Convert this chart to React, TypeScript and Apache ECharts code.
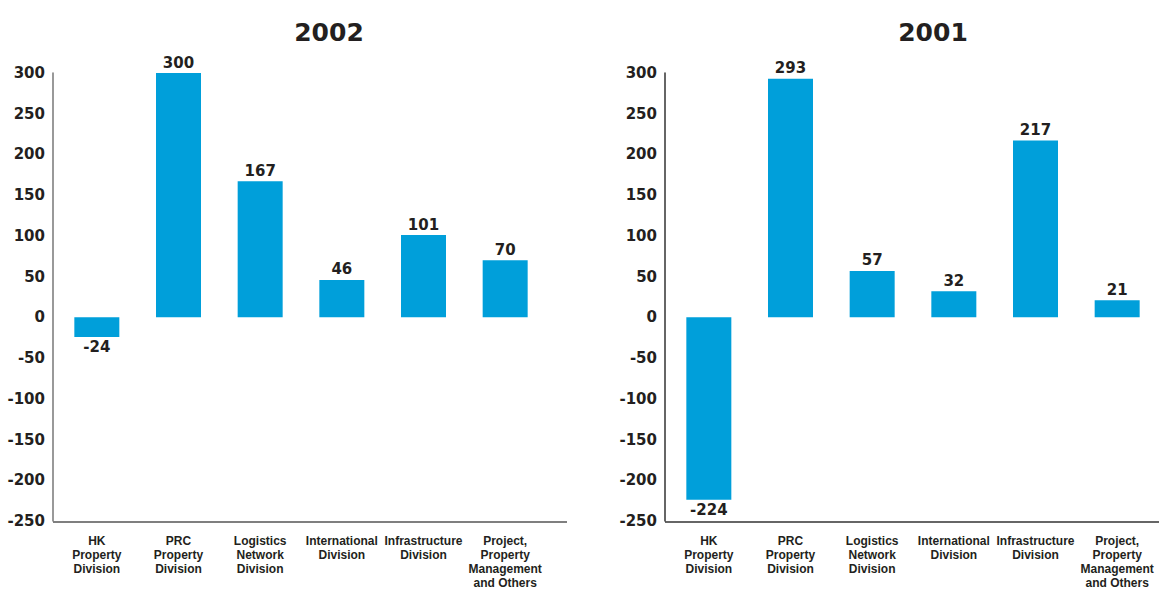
import React, { useEffect, useRef } from "react";
import * as echarts from "echarts";

const categories = [
  "HK\nProperty\nDivision",
  "PRC\nProperty\nDivision",
  "Logistics\nNetwork\nDivision",
  "International\nDivision",
  "Infrastructure\nDivision",
  "Project,\nProperty\nManagement\nand Others",
];
const values2002 = [-24, 300, 167, 46, 101, 70];
const values2001 = [-224, 293, 57, 32, 217, 21];
const titles = ["2002", "2001"];
const yMin = -250;
const yMax = 300;
const yStep = 50;

const BAR = "#009fda";
const TEXT = "#231f20";
const NUM_FONT = "'DejaVu Sans', sans-serif";
const CAT_FONT = "'Liberation Sans Narrow', 'Liberation Sans', sans-serif";

export default function App() {
  const ref = useRef<HTMLDivElement>(null);
  useEffect(() => {
    if (!ref.current) return;
    const chart = echarts.init(ref.current, null, { renderer: "svg" });
    const grids = [
      { left: 56, top: 73, width: 490, height: 449 },
      { left: 668, top: 73, width: 490, height: 449 },
    ];
    const axisColors = ["#777777", "#333333"];
    const mkData = (vals: number[]) =>
      vals.map((v) => ({
        value: v,
        label: { position: v < 0 ? "bottom" : "top" },
      }));
    chart.setOption({
      animation: false,
      title: [
        {
          text: titles[0],
          left: 324,
          top: 15,
          textAlign: "center",
          textStyle: { fontFamily: NUM_FONT, fontWeight: "bold", fontSize: 25, color: TEXT },
        },
        {
          text: titles[1],
          left: 928,
          top: 15,
          textAlign: "center",
          textStyle: { fontFamily: NUM_FONT, fontWeight: "bold", fontSize: 25, color: TEXT },
        },
      ],
      grid: grids,
      xAxis: [0, 1].map((i) => ({
        type: "category",
        gridIndex: i,
        data: categories,
        position: "bottom",
        axisLine: { show: false },
        axisTick: { show: false },
        axisLabel: {
          interval: 0,
          margin: 13,
          fontFamily: CAT_FONT,
          fontWeight: "bold",
          fontSize: 12,
          lineHeight: 14,
          color: TEXT,
        },
      })),
      yAxis: [0, 1].map((i) => ({
        type: "value",
        gridIndex: i,
        min: yMin,
        max: yMax,
        interval: yStep,
        offset: 3,
        axisLine: { show: true, lineStyle: { color: axisColors[i], width: 1.5 } },
        axisTick: { show: false },
        splitLine: { show: false },
        axisLabel: {
          margin: 8,
          padding: [3, 0, 0, 0],
          fontFamily: NUM_FONT,
          fontWeight: "bold",
          fontSize: 15,
          color: TEXT,
        },
      })),
      series: [values2002, values2001].map((vals, i) => ({
        type: "bar",
        xAxisIndex: i,
        yAxisIndex: i,
        data: mkData(vals),
        barWidth: 45,
        itemStyle: { color: BAR },
        label: {
          show: true,
          distance: 3,
          fontFamily: NUM_FONT,
          fontWeight: "bold",
          fontSize: 15,
          color: TEXT,
        },
      })),
      graphic: [
        {
          type: "line",
          shape: { x1: 53, y1: 522, x2: 567, y2: 522 },
          style: { stroke: "#555555", lineWidth: 1.5 },
        },
        {
          type: "line",
          shape: { x1: 665, y1: 522, x2: 1159, y2: 522 },
          style: { stroke: "#333333", lineWidth: 1.5 },
        },
      ],
    });
    return () => chart.dispose();
  }, []);
  return (
    <div
      ref={ref}
      style={{ position: "absolute", left: 0, top: 0, width: 1159, height: 590, background: "#fff" }}
    />
  );
}
